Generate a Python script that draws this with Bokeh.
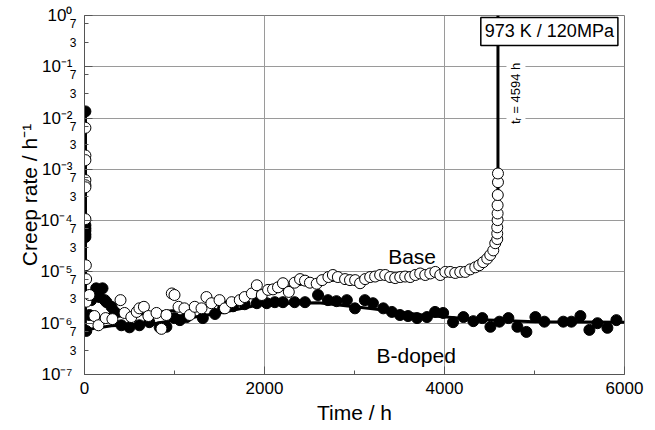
import numpy as np
from bokeh.plotting import figure
from bokeh.models import FixedTicker, Label, LogAxis
from bokeh.embed import file_html
from bokeh.resources import INLINE

FONT = "Liberation Sans"

# ---------------- data (time in h, creep rate in 1/h) ----------------
base_t = [10, 10, 10, 10, 10, 10, 10, 15, 18, 20, 55, 110, 155, 235, 310, 400, 445, 520, 580,
          610, 660, 710, 800, 855, 910, 970, 1000, 1045, 1110, 1170, 1225, 1300, 1355, 1410,
          1500, 1560, 1635, 1725, 1780, 1860, 1915, 1970, 2040, 2095, 2150, 2205, 2270, 2335,
          2395, 2450, 2505, 2580, 2640, 2710, 2760, 2815, 2895, 2950, 3007, 3062, 3118, 3174,
          3229, 3285, 3341, 3396, 3452, 3508, 3563, 3619, 3675, 3730, 3786, 3842, 3898, 3953,
          4009, 4063, 4119, 4175, 4230, 4286, 4342, 4386, 4430, 4475, 4508, 4542, 4564, 4586,
          4586, 4586, 4590, 4590, 4590, 4592, 4594, 4594]
base_log = [-2.19, -2.73, -2.82, -3.21, -3.31, -3.35, -3.97, -4.87, -5.14, -5.58, -5.45, -5.86,
            -6.04, -5.90, -5.92, -5.55, -5.80, -5.88, -5.78, -5.71, -5.68, -5.86, -5.80, -6.11,
            -5.84, -5.42, -5.45, -5.68, -5.71, -5.84, -5.68, -5.71, -5.49, -5.61, -5.55, -5.71,
            -5.59, -5.55, -5.49, -5.42, -5.26, -5.45, -5.35, -5.34, -5.30, -5.22, -5.39, -5.21,
            -5.14, -5.17, -5.21, -5.23, -5.16, -5.10, -5.06, -5.10, -5.14, -5.16, -5.16, -5.22,
            -5.14, -5.10, -5.09, -5.06, -5.06, -5.10, -5.12, -5.10, -5.09, -5.10, -5.06, -5.03,
            -5.06, -5.03, -5.00, -5.06, -5.00, -5.00, -5.02, -5.00, -5.00, -4.95, -4.91, -4.87,
            -4.81, -4.74, -4.67, -4.58, -4.44, -4.36, -4.25, -4.13, -3.99, -3.86, -3.70, -3.50,
            -3.25, -3.08]

bdop_t = [10, 10, 10, 10, 10, 10, 20, 55, 75, 130, 165, 200, 225, 245, 300, 335, 410, 500, 610,
          720, 835, 910, 1000, 1060, 1135, 1315, 1450, 1540, 1650, 1780, 1915, 2025, 2115, 2205,
          2335, 2450, 2595, 2705, 2800, 2915, 3005, 3115, 3205, 3320, 3415, 3505, 3595, 3695,
          3805, 3895, 3985, 4095, 4210, 4320, 4420, 4510, 4610, 4710, 4810, 4910, 5010, 5110,
          5320, 5410, 5510, 5610, 5700, 5810, 5910]
bdop_log = [-1.87, -4.09, -4.15, -4.20, -4.27, -4.32, -6.15, -5.84, -5.55, -5.32, -5.49, -5.32,
            -5.55, -5.59, -5.68, -5.78, -6.04, -6.08, -6.04, -5.98, -6.08, -6.07, -5.90, -5.94,
            -5.88, -5.90, -5.82, -5.71, -5.67, -5.63, -5.61, -5.61, -5.59, -5.59, -5.59, -5.59,
            -5.45, -5.55, -5.57, -5.55, -5.71, -5.55, -5.61, -5.71, -5.78, -5.84, -5.86, -5.90,
            -5.88, -5.78, -5.80, -5.98, -5.88, -5.96, -5.90, -6.07, -5.97, -5.90, -6.07, -6.17,
            -5.88, -5.97, -5.97, -5.97, -5.86, -6.13, -6.00, -6.09, -5.94]

# trend lines
base_fit_t = [10, 10, 300, 1000, 1500, 2000, 2500, 3000, 3500, 4000, 4300, 4500, 4570, 4594, 4594]
base_fit_log = [-1.87, -5.90, -5.88, -5.75, -5.62, -5.40, -5.20, -5.13, -5.08, -5.02, -4.93,
                -4.72, -4.45, -3.50, 0.0]
bdop_fit_t = [10, 10, 300, 800, 1500, 2000, 2600, 3200, 3800, 4400, 5000, 6000]
bdop_fit_log = [-1.87, -6.13, -6.05, -6.00, -5.80, -5.62, -5.60, -5.72, -5.85, -5.93, -5.97, -5.98]

decades = [1e-7, 1e-6, 1e-5, 1e-4, 1e-3, 1e-2, 1e-1, 1e0]
decade_labels = ["10⁻⁷", "10⁻⁶", "10⁻⁵", "10⁻⁴", "10⁻³", "10⁻²", "10⁻¹", "10⁰"]
minor_mult = [3, 7]
x_ticks = [0, 2000, 4000, 6000]
x_minor = [1000, 3000, 5000]

condition_text = "973 K / 120MPa"
rupture_text = "tᵣ = 4594 h"
rupture_time = 4594

# ---------------- figure ----------------
p = figure(width=655, height=430, output_backend="svg", toolbar_location=None,
           x_range=(0, 6000), y_range=(1e-7, 1), y_axis_type="log",
           min_border_left=84, min_border_right=31, min_border_top=15, min_border_bottom=56)
p.background_fill_color = "white"
p.border_fill_color = "white"
p.outline_line_color = "#7a7a7a"
p.outline_line_width = 1

minor_vals = [m * d for d in decades[:-1] for m in minor_mult]
minor_labels = [str(m) for d in decades[:-1] for m in minor_mult]

# inner y axis: the small "3"/"7" labels, long decade ticks drawn as its minor ticks
yin = p.yaxis[0]
yin.ticker = FixedTicker(ticks=minor_vals, minor_ticks=decades)
yin.major_label_overrides = {v: l for v, l in zip(minor_vals, minor_labels)}
yin.major_label_text_font = FONT
yin.major_label_text_font_size = "12px"
yin.major_label_text_color = "black"
yin.major_label_standoff = 8
yin.major_tick_in = 4
yin.major_tick_out = 0
yin.minor_tick_in = 8
yin.minor_tick_out = 0
yin.axis_line_color = "#555555"
yin.major_tick_line_color = "#555555"
yin.minor_tick_line_color = "#555555"

# outer y axis: decade labels and title
yout = LogAxis(ticker=FixedTicker(ticks=decades, minor_ticks=[]),
               major_label_overrides={d: l for d, l in zip(decades, decade_labels)})
yout.axis_line_color = None
yout.major_tick_line_color = None
yout.minor_tick_line_color = None
yout.major_tick_in = 0
yout.major_tick_out = 0
yout.major_label_standoff = -6
yout.major_label_text_font = FONT
yout.major_label_text_font_size = "17px"
yout.major_label_text_color = "black"
yout.axis_label = "Creep rate / h⁻¹"
yout.axis_label_text_font = FONT
yout.axis_label_text_font_size = "21px"
yout.axis_label_text_font_style = "normal"
yout.axis_label_text_color = "black"
yout.axis_label_standoff = -4
p.add_layout(yout, "left")

p.xaxis.ticker = FixedTicker(ticks=x_ticks, minor_ticks=x_minor)
p.ygrid.ticker = FixedTicker(ticks=decades)
p.xgrid.ticker = FixedTicker(ticks=x_ticks)
for g in (p.xgrid, p.ygrid):
    g.grid_line_color = "#9a9a9a"
    g.grid_line_width = 1

ax = p.xaxis[0]
ax.axis_line_color = "#555555"
ax.major_tick_in = 8
ax.major_tick_out = 0
ax.minor_tick_in = 4
ax.minor_tick_out = 0
ax.major_tick_line_color = "#555555"
ax.minor_tick_line_color = "#555555"
ax.major_label_text_font = FONT
ax.major_label_text_font_size = "17px"
ax.major_label_text_color = "black"
ax.major_label_standoff = 7
ax.axis_label = "Time / h"
ax.axis_label_text_font = FONT
ax.axis_label_text_font_size = "21px"
ax.axis_label_text_font_style = "normal"
ax.axis_label_text_color = "black"
ax.axis_label_standoff = 4

# ---------------- lines ----------------
p.line(base_fit_t, [10 ** v for v in base_fit_log], line_color="black", line_width=3)
p.line(bdop_fit_t, [10 ** v for v in bdop_fit_log], line_color="black", line_width=3)

# ---------------- markers ----------------
p.scatter(bdop_t, [10 ** v for v in bdop_log], marker="circle", size=11,
          fill_color="black", line_color="black", line_width=1)
p.scatter(base_t, [10 ** v for v in base_log], marker="circle", size=11,
          fill_color="white", line_color="black", line_width=1)

# ---------------- annotations ----------------
p.add_layout(Label(x=3640, y=10 ** -4.69, text="Base", text_align="center",
                   text_baseline="alphabetic", text_font=FONT, text_font_size="21px",
                   text_color="black"))
p.add_layout(Label(x=3685, y=10 ** -6.62, text="B-doped", text_align="center",
                   text_baseline="alphabetic", text_font=FONT, text_font_size="21px",
                   text_color="black"))
p.add_layout(Label(x=5165, y=10 ** -0.31, text=condition_text, text_align="center",
                   text_baseline="middle", text_font=FONT, text_font_size="18px",
                   text_color="black", background_fill_color="white",
                   border_line_color="black", border_line_width=1.5, padding=4))
p.add_layout(Label(x=rupture_time + 200, y=10 ** -1.52, text=rupture_text, angle=np.pi / 2,
                   text_align="center", text_baseline="middle", text_font=FONT,
                   text_font_size="13px", text_color="black",
                   background_fill_color="white", padding=2))

open("out.html", "w").write(file_html(p, INLINE))
